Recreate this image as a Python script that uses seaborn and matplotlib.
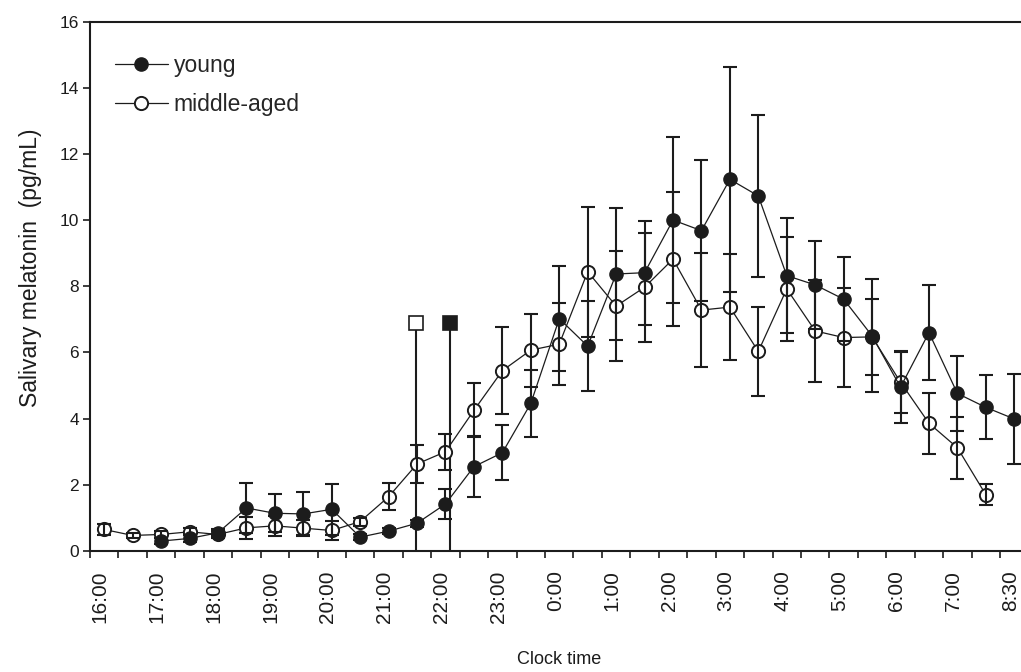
import numpy as np
import pandas as pd
import matplotlib
matplotlib.use("Agg")
import matplotlib.pyplot as plt
import matplotlib.transforms as mtransforms
from matplotlib.ticker import FixedLocator, NullFormatter
import seaborn as sns

nan = np.nan

# ---- data ----
times = ["16:00", "16:30", "17:00", "17:30", "18:00", "18:30", "19:00", "19:30",
         "20:00", "20:30", "21:00", "21:30", "22:00", "22:30", "23:00", "23:30",
         "0:00", "0:30", "1:00", "1:30", "2:00", "2:30", "3:00", "3:30",
         "4:00", "4:30", "5:00", "5:30", "6:00", "6:30", "7:00", "7:30", "8:30"]

young = [nan, nan, 0.30, 0.38, 0.55, 1.30, 1.14, 1.12, 1.26, 0.42, 0.60, 0.84,
         1.42, 2.55, 2.97, 4.46, 7.02, 6.19, 8.37, 8.41, 10.00, 9.68, 11.23, 10.73,
         8.32, 8.04, 7.61, 6.50, 4.95, 6.60, 4.76, 4.34, 3.99]
young_sem = [nan, nan, 0.10, 0.10, 0.12, 0.75, 0.57, 0.65, 0.77, 0.10, 0.08, 0.10,
             0.45, 0.93, 0.83, 1.02, 1.58, 1.36, 2.00, 1.57, 2.52, 2.13, 3.40, 2.44,
             1.74, 1.34, 1.26, 1.71, 1.08, 1.44, 1.13, 0.97, 1.35]

middle = [0.65, 0.47, 0.50, 0.58, 0.50, 0.70, 0.76, 0.69, 0.62, 0.89, 1.64, 2.63,
          3.00, 4.25, 5.45, 6.07, 6.25, 8.44, 7.40, 7.97, 8.82, 7.28, 7.37, 6.03,
          7.92, 6.65, 6.45, 6.47, 5.10, 3.86, 3.12, 1.70, nan]
middle_sem = [0.18, 0.08, 0.10, 0.10, 0.10, 0.33, 0.30, 0.25, 0.28, 0.12, 0.40, 0.57,
              0.55, 0.82, 1.32, 1.10, 1.23, 1.96, 1.67, 1.65, 2.02, 1.72, 1.60, 1.35,
              1.58, 1.53, 1.50, 1.15, 0.92, 0.92, 0.93, 0.31, nan]

# melatonin onset markers (clock time) and their plotted height
onset_labels = ["middle-aged", "young"]
onset_times = ["21:29", "22:05"]
onset_level = 6.9

# ---- style ----
sns.set_theme(style="white")
plt.rcParams['font.family'] = ['Liberation Sans', 'DejaVu Sans']
ink = "#1c1c1c"

fig = plt.figure(figsize=(10.21, 6.72), dpi=100)
ax = fig.add_axes([90 / 1021, 121 / 672, 938.5 / 1021, 529.5 / 672])

pos = np.arange(len(times))
df = pd.DataFrame({"pos": pos, "young": young, "young_sem": young_sem,
                   "middle": middle, "middle_sem": middle_sem})


def to_pos(t):
    h, m = [int(v) for v in t.split(":")]
    hrs = (h + m / 60.0 - 16) % 24
    return hrs * 2


MS = 9.5

# middle-aged (open markers)
dm = df.dropna(subset=["middle"])
sns.lineplot(data=dm, x="pos", y="middle", ax=ax, color=ink, lw=0.9,
             marker="o", markersize=MS, markerfacecolor="white",
             markeredgecolor=ink, markeredgewidth=1.4, zorder=3,
             label="middle-aged", errorbar=None)
ax.errorbar(dm["pos"], dm["middle"], yerr=dm["middle_sem"], fmt="none",
            ecolor=ink, elinewidth=1.5, capsize=4.8, capthick=1.5, zorder=4)

# young (filled markers)
dy = df.dropna(subset=["young"])
ax.errorbar(dy["pos"], dy["young"], yerr=dy["young_sem"], fmt="none",
            ecolor=ink, elinewidth=1.5, capsize=4.8, capthick=1.5, zorder=4)
sns.lineplot(data=dy, x="pos", y="young", ax=ax, color=ink, lw=0.9,
             marker="o", markersize=MS, markerfacecolor=ink,
             markeredgecolor=ink, markeredgewidth=1.0, zorder=5,
             label="young", errorbar=None)

# onset markers
for lab, t in zip(onset_labels, onset_times):
    xp = to_pos(t)
    ax.plot([xp, xp], [0, onset_level], color=ink, lw=1.5, zorder=2)
    ax.plot([xp], [onset_level], marker="s", markersize=10.5,
            markerfacecolor=("white" if lab == "middle-aged" else ink),
            markeredgecolor=ink, markeredgewidth=1.2, zorder=6, ls="none")

# ---- axes ----
ax.set_xlim(-0.5, len(times) - 0.5)
ax.set_ylim(0, 16)
ax.set_yticks(np.arange(0, 17, 2))
ax.set_yticklabels([str(v) for v in range(0, 17, 2)])

major = pos[::2]
ax.xaxis.set_major_locator(FixedLocator(major))
ax.set_xticklabels([times[i] for i in major], rotation=90, va="top", ha="center")
ax.xaxis.set_minor_locator(FixedLocator(np.arange(-0.5, len(times), 1.0)))
ax.xaxis.set_minor_formatter(NullFormatter())

ax.tick_params(axis="x", which="major", length=0, pad=14, labelsize=15, colors=ink)
ax.tick_params(axis="x", which="minor", length=5, width=1.2, direction="out",
               color=ink, bottom=True)
ax.tick_params(axis="y", which="major", length=5, width=1.2, direction="out",
               pad=3, labelsize=12.5, colors=ink, left=True)

# nudge rotated tick labels slightly left, as in the original
shift = mtransforms.ScaledTranslation(-4 / 100, 0, fig.dpi_scale_trans)
for lbl in ax.get_xticklabels():
    lbl.set_transform(lbl.get_transform() + shift)

for s in ["left", "bottom", "top", "right"]:
    ax.spines[s].set_visible(True)
    ax.spines[s].set_color(ink)
    ax.spines[s].set_linewidth(1.5)

ax.set_xlabel("Clock time", fontsize=13, color=ink, labelpad=20)
ax.set_ylabel("Salivary melatonin  (pg/mL)", fontsize=16.5, color=ink)
ax.yaxis.set_label_coords(-0.051, 0.534)
ax.grid(False)

# legend (young first)
handles, labels = ax.get_legend_handles_labels()
order = [labels.index("young"), labels.index("middle-aged")]
ax.legend([handles[i] for i in order], [labels[i] for i in order],
          loc="upper left", bbox_to_anchor=(0.0266, 0.939), frameon=False,
          fontsize=16.5, handlelength=2.3, handletextpad=0.26, labelspacing=0.7,
          borderaxespad=0, borderpad=0)

fig.savefig("out.png", dpi=100)
